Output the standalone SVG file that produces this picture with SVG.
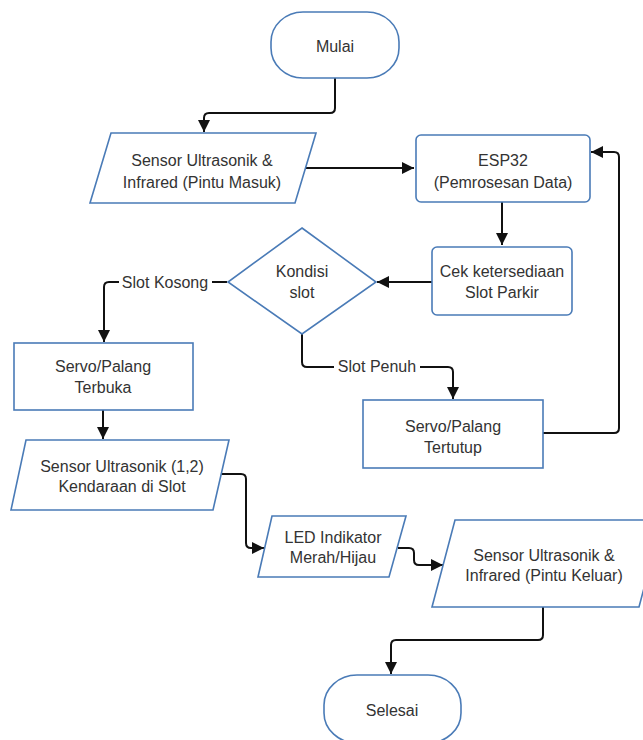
<svg xmlns="http://www.w3.org/2000/svg" width="643" height="740" viewBox="0 0 643 740">
<style>
.n{fill:#fff;stroke:#4a7bb7;stroke-width:1.6}
.t{font-family:"Liberation Sans",Arial,sans-serif;font-size:16px;fill:#333;text-anchor:middle}
.c{fill:none;stroke:#111;stroke-width:2}
</style>
<defs>
<marker id="ah" markerUnits="userSpaceOnUse" markerWidth="14" markerHeight="14" refX="12" refY="7" orient="auto">
<path d="M0,1 L12,7 L0,13 Z" fill="#111"/>
</marker>
</defs>
<rect width="643" height="740" fill="#fff"/>
<g id="connectors">
<path class="c" d="M335,78 V108 Q335,113 330,113 H209 Q204,113 204,118 V132" marker-end="url(#ah)"/>
<path class="c" d="M305,168 H414" marker-end="url(#ah)"/>
<path class="c" d="M502,202 V245" marker-end="url(#ah)"/>
<path class="c" d="M432,282 H377" marker-end="url(#ah)"/>
<path class="c" d="M227,282 H212"/>
<path class="c" d="M119,282 H109 Q104,282 104,287 V342" marker-end="url(#ah)"/>
<path class="c" d="M302,333 V362 Q302,367 307,367 H334"/>
<path class="c" d="M420,367 H448 Q453,367 453,372 V399" marker-end="url(#ah)"/>
<path class="c" d="M543,433 H614 Q619,433 619,428 V157 Q619,152 614,152 H591" marker-end="url(#ah)"/>
<path class="c" d="M103,410 V439" marker-end="url(#ah)"/>
<path class="c" d="M221,474 H241 Q246,474 246,479 V543 Q246,548 251,548 H264" marker-end="url(#ah)"/>
<path class="c" d="M398,548 H409 Q414,548 414,553 V560 Q414,565 419,565 H443" marker-end="url(#ah)"/>
<path class="c" d="M543,607 V635 Q543,640 538,640 H396 Q391,640 391,645 V674" marker-end="url(#ah)"/>
<text class="t" x="165" y="288">Slot Kosong</text>
<text class="t" x="377" y="372">Slot Penuh</text>
</g>
<g id="mulai">
<rect class="n" x="271" y="12" width="128" height="66" rx="32" ry="30"/>
<text class="t" x="335" y="52">Mulai</text>
</g>
<g id="sensor-masuk">
<polygon class="n" points="111,133 316,133 295,203 90,203"/>
<text class="t" x="202" y="166">Sensor Ultrasonik &amp;</text>
<text class="t" x="202" y="188">Infrared (Pintu Masuk)</text>
</g>
<g id="esp32">
<rect class="n" x="416" y="135" width="174" height="67" rx="5"/>
<text class="t" x="503" y="166">ESP32</text>
<text class="t" x="503" y="188">(Pemrosesan Data)</text>
</g>
<g id="cek">
<rect class="n" x="432" y="247" width="140" height="68" rx="5"/>
<text class="t" x="502" y="277">Cek ketersediaan</text>
<text class="t" x="502" y="298">Slot Parkir</text>
</g>
<g id="kondisi">
<polygon class="n" points="302,228 376,282 302,334 228,282"/>
<text class="t" x="302" y="277">Kondisi</text>
<text class="t" x="302" y="298">slot</text>
</g>
<g id="terbuka">
<rect class="n" x="14" y="343" width="179" height="67"/>
<text class="t" x="103" y="372">Servo/Palang</text>
<text class="t" x="103" y="393">Terbuka</text>
</g>
<g id="tertutup">
<rect class="n" x="363" y="400" width="180" height="68"/>
<text class="t" x="453" y="432">Servo/Palang</text>
<text class="t" x="453" y="453">Tertutup</text>
</g>
<g id="sensor-slot">
<polygon class="n" points="26,440 229,440 213,510 11,510"/>
<text class="t" x="122" y="472">Sensor Ultrasonik (1,2)</text>
<text class="t" x="122" y="492">Kendaraan di Slot</text>
</g>
<g id="led">
<polygon class="n" points="272,516 406,516 389,577 258,577"/>
<text class="t" x="333" y="543">LED Indikator</text>
<text class="t" x="333" y="563">Merah/Hijau</text>
</g>
<g id="sensor-keluar">
<polygon class="n" points="455,520 662,520 639,607 432,607"/>
<text class="t" x="544" y="561">Sensor Ultrasonik &amp;</text>
<text class="t" x="544" y="581">Infrared (Pintu Keluar)</text>
</g>
<g id="selesai">
<rect class="n" x="324" y="675" width="137" height="68" rx="33" ry="30"/>
<text class="t" x="392" y="716">Selesai</text>
</g>
</svg>
